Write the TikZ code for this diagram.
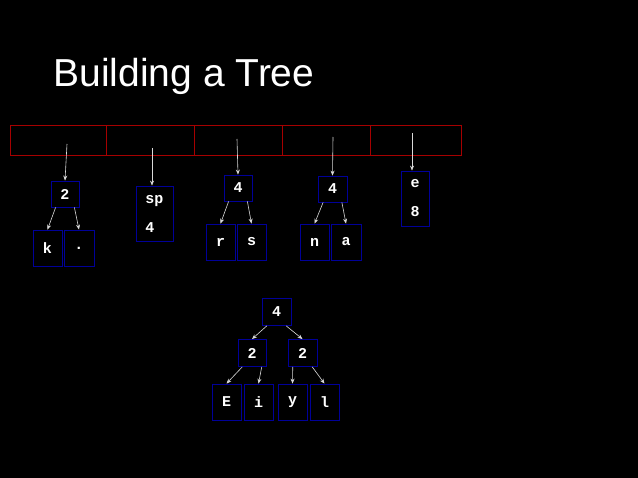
\documentclass[tikz,border=0pt]{standalone}
\usepackage{fontspec}
\setmainfont{Liberation Sans}
\newfontfamily\monob{Liberation Mono}
\usetikzlibrary{arrows.meta}
\begin{document}
\begin{tikzpicture}[x=1pt,y=-1pt,
  bx/.style={draw=blue!60!black,line width=0.8pt,text=white,inner sep=0pt,font=\monob\bfseries\fontsize{15}{20}\selectfont},
  cell/.style={draw=red!65!black,line width=0.8pt,minimum height=30pt,inner sep=0pt},
  ar/.style={draw=white!85!black,line width=0.6pt,-{Stealth[length=5pt,width=4pt]}}]
\fill[black] (0,0) rectangle (638,478);
\useasboundingbox (0,0) rectangle (638,478);
\node[anchor=base west,text=white,font=\fontsize{39}{44}\selectfont] (title) at (50,87) {Building a Tree};
% array
\node[cell,minimum width=96pt] (c1) at (58,140) {};
\node[cell,minimum width=88pt] (c2) at (150,140) {};
\node[cell,minimum width=88pt] (c3) at (238,140) {};
\node[cell,minimum width=88pt] (c4) at (326,140) {};
\node[cell,minimum width=91pt] (c5) at (415.5,140) {};
\coordinate (a1) at (67,144); \coordinate (a2) at (152,148);
\coordinate (a3) at (237,139); \coordinate (a4) at (333,137);
\coordinate (a5) at (412,133);
% nodes
\node[bx,minimum width=28pt,minimum height=26pt] (n2) at (65,194) {2};
\node[bx,minimum width=29pt,minimum height=36pt] (k) at (47.5,248) {k};
\node[bx,minimum width=30pt,minimum height=36pt] (dot) at (79,248) {.};
\node[bx,minimum width=37pt,minimum height=55pt,align=left,font=\monob\bfseries\fontsize{15}{29}\selectfont] (sp) at (154.5,213.5) {sp\\4\hspace{1em}};
\node[bx,minimum width=28pt,minimum height=26pt] (n4a) at (238,188) {4};
\node[bx,minimum width=29pt,minimum height=36pt] (r) at (220.5,242) {r};
\node[bx,minimum width=29pt,minimum height=36pt] (s) at (251.5,242) {s};
\node[bx,minimum width=29pt,minimum height=26pt] (n4b) at (332.5,189) {4};
\node[bx,minimum width=29pt,minimum height=36pt] (n) at (314.5,242) {n};
\node[bx,minimum width=30pt,minimum height=36pt] (a) at (346,242) {a};
\node[bx,minimum width=28pt,minimum height=55pt,align=center,font=\monob\bfseries\fontsize{15}{29}\selectfont] (e8) at (415,198.5) {e\\8};
\node[bx,minimum width=29pt,minimum height=27pt] (t4) at (276.5,312) {4};
\node[bx,minimum width=28pt,minimum height=27pt] (t2a) at (252,353) {2};
\node[bx,minimum width=29pt,minimum height=27pt] (t2b) at (302.5,353) {2};
\node[bx,minimum width=29pt,minimum height=36pt] (E) at (226.5,402) {E};
\node[bx,minimum width=29pt,minimum height=36pt] (i) at (258.5,402) {i};
\node[bx,minimum width=29pt,minimum height=36pt] (y) at (292.5,402) {\raisebox{-3pt}{y}};
\node[bx,minimum width=29pt,minimum height=36pt] (l) at (324.5,402) {l};
% arrows
\draw[ar] (a1) -- (n2.north);
\draw[ar] (a2) -- (sp.north -| a2);
\draw[ar] (a3) -- (n4a.north);
\draw[ar] (a4) -- (n4b.north);
\draw[ar] (a5) -- (e8.north -| a5);
\foreach \p/\c/\d in {n2/k/-125,n2/dot/-55,n4a/r/-125,n4a/s/-55,n4b/n/-125,n4b/a/-55,t4/t2a/-125,t4/t2b/-55,t2a/E/-125,t2a/i/-55,t2b/y/-125,t2b/l/-55}
  \draw[ar] (\p.\d) -- (\c.north);
\end{tikzpicture}
\end{document}
